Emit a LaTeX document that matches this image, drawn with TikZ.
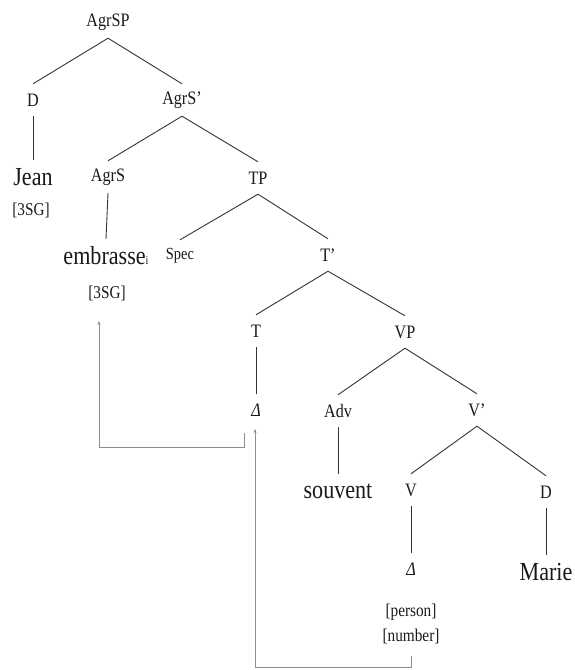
\documentclass[tikz,border=0pt]{standalone}
\usepackage{fontspec}
\setmainfont[FakeStretch=0.85]{Liberation Serif}
\usetikzlibrary{arrows.meta}
\begin{document}
\begin{tikzpicture}[x=1pt,y=-1pt,
  cat/.style={inner sep=0pt,minimum height=32pt,text=black!90,font=\fontsize{19}{19}\selectfont},
  word/.style={inner sep=0pt,minimum height=34pt,text=black!90,font=\fontsize{26}{26}\selectfont},
  feat/.style={inner sep=0pt,minimum height=20pt,text=black!90,font=\fontsize{18}{18}\selectfont},
  gap/.style={inner sep=0pt,minimum height=32pt,text=black!90,font=\fontsize{19}{19}\selectfont\itshape},
  branch/.style={draw=black!80,line width=0.9pt},
  move/.style={draw=black!45,line width=0.6pt,-{Stealth[length=4pt,width=3pt]}}]
\useasboundingbox (0,0) rectangle (575,670);

% categories and words
\node[cat]  (agrsp)  at (108,22)  {AgrSP};
\node[cat]  (d1)     at (33,100)  {D};
\node[cat]  (agrsb)  at (182,100) {AgrS'};
\node[word] (jean)   at (33,177)  {Jean};
\node[feat] (sg1)    at (31,210)  {[3SG]};
\node[cat]  (agrs)   at (108,177) {AgrS};
\node[cat]  (tp)     at (258,178) {TP};
\node[word] (emb)    at (106,256) {embrasse{\fontsize{12}{12}\selectfont i}};
\node[cat,font=\fontsize{17}{17}\selectfont] (spec) at (180,256) {Spec};
\node[feat] (sg2)    at (107,293) {[3SG]};
\node[cat]  (tb)     at (328,255) {T'};
\node[cat]  (t)      at (256,331) {T};
\node[cat]  (vp)     at (405,332) {VP};
\node[gap]  (e1)     at (256,410) {Δ};
\node[cat]  (adv)    at (338,411) {Adv};
\node[cat]  (vb)     at (477,410) {V'};
\node[word] (souv)   at (338,491) {souvent};
\node[cat]  (v)      at (411,490) {V};
\node[cat]  (d2)     at (546,492) {D};
\node[gap]  (e2)     at (411,569) {Δ};
\node[word] (marie)  at (546,572) {Marie};
\node[feat] (pers)   at (411,612) {[person]};
\node[feat] (numb)   at (411,636) {[number]};

% branches
\draw[branch] (agrsp.south) -- (d1.north);
\draw[branch] (agrsp.south) -- (agrsb.north);
\draw[branch] (d1.south) -- (jean.north);
\draw[branch] (agrsb.south) -- (agrs.north);
\draw[branch] (agrsb.south) -- (tp.north);
\draw[branch] (agrs.south) -- (emb.north);
\draw[branch] (tp.south) -- (spec.north);
\draw[branch] (tp.south) -- (tb.north);
\draw[branch] (tb.south) -- (t.north);
\draw[branch] (tb.south) -- (vp.north);
\draw[branch] (t.south) -- (e1.north);
\draw[branch] (vp.south) -- (adv.north);
\draw[branch] (vp.south) -- (vb.north);
\draw[branch] (adv.south) -- (souv.north);
\draw[branch] (vb.south) -- (v.north);
\draw[branch] (vb.south) -- (d2.north);
\draw[branch] (v.south) -- (e2.north);
\draw[branch] (d2.south) -- (marie.north);

% movement paths
\coordinate (m1a) at (411,656);
\coordinate (m1b) at (255,667);
\coordinate (m1c) at (255,429);
\draw[move] (m1a) |- (m1b) -- (m1c);
\coordinate (m2a) at (244,433);
\coordinate (m2b) at (99,447);
\coordinate (m2c) at (99,321);
\draw[move] (m2a) |- (m2b) -- (m2c);
\end{tikzpicture}
\end{document}
